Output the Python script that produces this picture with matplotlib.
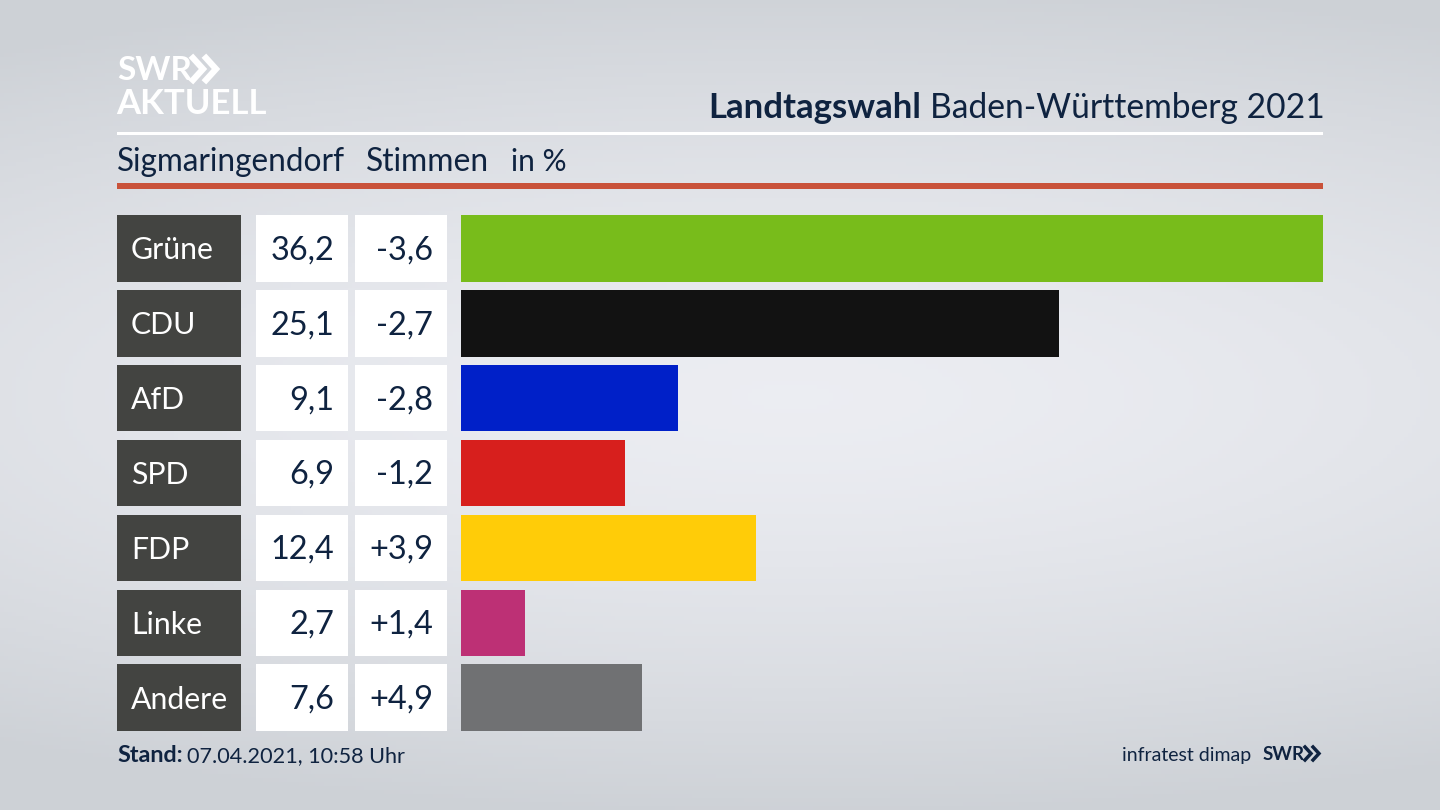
import numpy as np
import matplotlib
matplotlib.use('Agg')
import matplotlib.pyplot as plt
from matplotlib.patches import Rectangle

plt.rcParams['font.family'] = ['Lato', 'DejaVu Sans']

# Data
parties = ['Grüne', 'CDU', 'AfD', 'SPD', 'FDP', 'Linke', 'Andere']
votes = [36.2, 25.1, 9.1, 6.9, 12.4, 2.7, 7.6]
changes = [-3.6, -2.7, -2.8, -1.2, 3.9, 1.4, 4.9]
party_colors = ['#78bc1b', '#121212', '#0020c8', '#d71f1d', '#ffcc08', '#bd3075', '#707173']

NAVY = '#0f2340'
row_top = 215
row_pitch = 74.9
row_h = 66.6


def comma(v, signed=False):
    s = f'{v:+.1f}' if signed else f'{v:.1f}'
    return s.replace('.', ',')


fig = plt.figure(figsize=(14.4, 8.1), dpi=100)

# Background, lighter around the middle
bg = fig.add_axes([0, 0, 1, 1], zorder=0)
yy, xx = np.mgrid[0:1:200j, 0:1:356j]
d = np.sqrt(((xx - 0.55) / 1.0) ** 2 + ((yy - 0.49) / 0.52) ** 2)
shade = np.clip(d, 0, 1) ** 1.5
light = np.array([0.925, 0.93, 0.95])
dark = np.array([0.805, 0.82, 0.84])
bg.imshow(light + (dark - light) * shade[..., None], aspect='auto', extent=[0, 1440, 810, 0])
bg.axis('off')

# Pixel overlay for the layout
ax = fig.add_axes([0, 0, 1, 1], zorder=1)
ax.set_xlim(0, 1440)
ax.set_ylim(810, 0)
ax.axis('off')
ax.patch.set_alpha(0)

# Logo
ax.text(117, 70, 'SWR', color='white', fontsize=24, fontweight='bold', va='center', ha='left')
ax.text(116, 104, 'AKTUELL', color='white', fontsize=25, fontweight='bold', va='center', ha='left')
for x0 in (193, 206):
    ax.plot([x0, x0 + 10, x0], [58, 69, 80], color='white', lw=4.5, solid_joinstyle='miter')

# Header
ax.text(921, 108, 'Landtagswahl', color=NAVY, fontsize=25, fontweight='bold', va='center', ha='right')
ax.text(930, 108, 'Baden-Württemberg 2021', color=NAVY, fontsize=24.2, va='center', ha='left')
ax.add_patch(Rectangle((117, 132), 1206, 3, color='white', lw=0))
ax.text(117, 162, 'Sigmaringendorf', color=NAVY, fontsize=22.7, va='center', ha='left')
ax.text(366, 162, 'Stimmen', color=NAVY, fontsize=22.9, va='center', ha='left')
ax.text(511, 162, 'in %', color=NAVY, fontsize=21.5, va='center', ha='left')
ax.add_patch(Rectangle((117, 183), 1206, 6, color='#c9523a', lw=0))

# Table columns next to the bars
for i, party in enumerate(parties):
    top = row_top + i * row_pitch
    mid = top + row_h / 2
    ax.add_patch(Rectangle((117, top), 124, row_h, color='#434441', lw=0))
    ax.add_patch(Rectangle((256, top), 92, row_h, color='white', lw=0))
    ax.add_patch(Rectangle((355, top), 92, row_h, color='white', lw=0))
    ax.text(131, mid + 2, party, color='white', fontsize=21.8, va='center', ha='left')
    ax.text(334, mid + 2, comma(votes[i]), color=NAVY, fontsize=23.4, va='center', ha='right')
    ax.text(433, mid + 2, comma(changes[i], signed=True), color=NAVY, fontsize=23.4, va='center', ha='right')

# Bars
bar_ax = fig.add_axes([461 / 1440, 1 - 731 / 810, 862 / 1440, 516 / 810], zorder=2)
bar_ax.barh(range(len(parties)), votes, height=row_h / row_pitch, color=party_colors)
bar_ax.set_xlim(0, max(votes))
bar_ax.set_ylim(len(parties) - 1 + row_h / row_pitch / 2, -row_h / row_pitch / 2)
bar_ax.axis('off')

# Footer
ax.text(117, 756, 'Stand:', color=NAVY, fontsize=16.8, fontweight='bold', va='center', ha='left')
ax.text(187, 756, '07.04.2021, 10:58 Uhr', color=NAVY, fontsize=15.6, va='center', ha='left')
ax.text(1251, 755, 'infratest dimap', color=NAVY, fontsize=14, va='center', ha='right')
ax.text(1263, 755, 'SWR', color=NAVY, fontsize=13.5, fontweight='bold', va='center', ha='left')
for x0 in (1305, 1313):
    ax.plot([x0, x0 + 6, x0], [747, 753.5, 760], color=NAVY, lw=2.5, solid_joinstyle='miter')

fig.savefig('out.png', dpi=100)
